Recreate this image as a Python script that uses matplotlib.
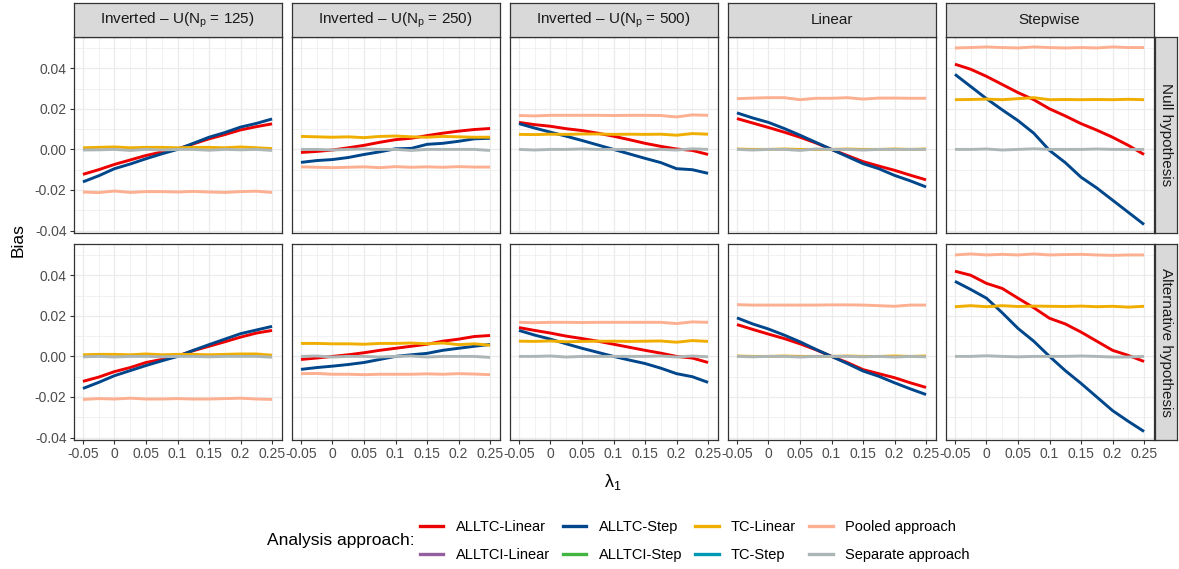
import matplotlib
matplotlib.use("Agg")
import matplotlib.pyplot as plt
from matplotlib.lines import Line2D
from matplotlib.ticker import MultipleLocator

plt.rcParams["font.family"] = ["Liberation Sans", "DejaVu Sans"]
plt.rcParams["mathtext.fontset"] = "custom"
plt.rcParams["mathtext.rm"] = "Liberation Sans"
plt.rcParams["mathtext.it"] = "Liberation Sans:italic"

# ---------------- DATA ----------------
lambda1 = [-0.05, -0.025, 0, 0.025, 0.05, 0.075, 0.1, 0.125, 0.15, 0.175, 0.2, 0.225, 0.25]

panels = ["Inverted \u2013 U(N$_\\mathrm{p}$ = 125)",
          "Inverted \u2013 U(N$_\\mathrm{p}$ = 250)",
          "Inverted \u2013 U(N$_\\mathrm{p}$ = 500)",
          "Linear", "Stepwise"]
rows = ["Null hypothesis", "Alternative hypothesis"]

# one list per panel (IU125, IU250, IU500, Linear, Stepwise)
alltc_linear_null = [
    [-0.0123, -0.0100, -0.0074, -0.0052, -0.0030, -0.0013, 0.0002, 0.0027, 0.0052, 0.0073, 0.0096, 0.0112, 0.0126],
    [-0.0015, -0.0010, -0.0003, 0.0008, 0.0020, 0.0035, 0.0048, 0.0055, 0.0068, 0.0080, 0.0090, 0.0098, 0.0103],
    [0.0133, 0.0122, 0.0114, 0.0102, 0.0093, 0.0080, 0.0065, 0.0048, 0.0030, 0.0015, 0.0002, -0.0005, -0.0025],
    [0.0152, 0.0130, 0.0108, 0.0085, 0.0060, 0.0032, 0.0000, -0.0030, -0.0060, -0.0082, -0.0103, -0.0127, -0.0150],
    [0.0420, 0.0395, 0.0360, 0.0320, 0.0280, 0.0245, 0.0200, 0.0165, 0.0127, 0.0095, 0.0060, 0.0020, -0.0025],
]
alltc_step_null = [
    [-0.0160, -0.0130, -0.0095, -0.0072, -0.0046, -0.0022, 0.0000, 0.0030, 0.0060, 0.0083, 0.0110, 0.0128, 0.0150],
    [-0.0064, -0.0055, -0.0050, -0.0040, -0.0025, -0.0012, 0.0003, 0.0005, 0.0025, 0.0030, 0.0040, 0.0052, 0.0055],
    [0.0127, 0.0105, 0.0085, 0.0065, 0.0044, 0.0022, 0.0000, -0.0022, -0.0044, -0.0065, -0.0095, -0.0100, -0.0118],
    [0.0180, 0.0155, 0.0133, 0.0103, 0.0070, 0.0035, 0.0000, -0.0035, -0.0070, -0.0095, -0.0128, -0.0155, -0.0185],
    [0.0370, 0.0310, 0.0250, 0.0195, 0.0142, 0.0080, -0.0005, -0.0065, -0.0137, -0.0190, -0.0250, -0.0310, -0.0370],
]
tc_linear_null = [
    [0.0008, 0.0010, 0.0012, 0.0008, 0.0010, 0.0010, 0.0008, 0.0010, 0.0010, 0.0008, 0.0012, 0.0008, 0.0004],
    [0.0064, 0.0062, 0.0060, 0.0062, 0.0058, 0.0064, 0.0066, 0.0062, 0.0060, 0.0064, 0.0062, 0.0060, 0.0060],
    [0.0074, 0.0073, 0.0075, 0.0074, 0.0076, 0.0076, 0.0074, 0.0075, 0.0074, 0.0075, 0.0070, 0.0078, 0.0075],
    [0.0002, 0.0000, 0.0000, 0.0002, 0.0000, 0.0000, 0.0000, 0.0002, 0.0000, 0.0000, 0.0002, 0.0000, 0.0002],
    [0.0245, 0.0246, 0.0248, 0.0245, 0.0250, 0.0255, 0.0245, 0.0246, 0.0245, 0.0246, 0.0245, 0.0247, 0.0245],
]
pooled_null = [
    [-0.0210, -0.0213, -0.0205, -0.0212, -0.0208, -0.0208, -0.0210, -0.0207, -0.0210, -0.0212, -0.0208, -0.0206, -0.0212],
    [-0.0086, -0.0088, -0.0090, -0.0088, -0.0086, -0.0090, -0.0085, -0.0088, -0.0086, -0.0088, -0.0085, -0.0087, -0.0087],
    [0.0167, 0.0165, 0.0168, 0.0168, 0.0168, 0.0168, 0.0167, 0.0168, 0.0168, 0.0167, 0.0160, 0.0170, 0.0168],
    [0.0250, 0.0253, 0.0255, 0.0255, 0.0245, 0.0252, 0.0252, 0.0255, 0.0248, 0.0253, 0.0253, 0.0252, 0.0252],
    [0.0500, 0.0502, 0.0505, 0.0502, 0.0500, 0.0505, 0.0502, 0.0500, 0.0502, 0.0500, 0.0505, 0.0502, 0.0502],
]
separate_null = [
    [-0.0003, -0.0002, 0.0000, -0.0005, 0.0000, -0.0003, 0.0000, 0.0000, -0.0004, 0.0000, -0.0002, 0.0000, -0.0005],
    [0.0000, 0.0000, -0.0003, 0.0000, 0.0002, 0.0000, 0.0000, -0.0005, 0.0000, 0.0000, 0.0000, 0.0000, -0.0005],
    [0.0000, -0.0003, 0.0000, 0.0000, 0.0002, 0.0000, 0.0000, 0.0000, -0.0002, 0.0000, -0.0003, 0.0003, 0.0000],
    [0.0000, -0.0003, 0.0000, 0.0000, -0.0005, 0.0002, 0.0000, 0.0000, -0.0003, 0.0000, 0.0000, 0.0000, 0.0000],
    [0.0000, 0.0000, 0.0002, -0.0003, 0.0000, 0.0003, 0.0000, 0.0000, 0.0000, 0.0002, 0.0000, 0.0000, 0.0000],
]

alltc_linear_alt = [
    [-0.0123, -0.0102, -0.0075, -0.0055, -0.0030, -0.0015, 0.0002, 0.0028, 0.0050, 0.0072, 0.0095, 0.0115, 0.0128],
    [-0.0015, -0.0008, 0.0000, 0.0008, 0.0018, 0.0030, 0.0040, 0.0050, 0.0060, 0.0075, 0.0085, 0.0098, 0.0103],
    [0.0142, 0.0128, 0.0115, 0.0100, 0.0088, 0.0075, 0.0060, 0.0045, 0.0030, 0.0016, 0.0000, -0.0008, -0.0030],
    [0.0157, 0.0133, 0.0110, 0.0088, 0.0062, 0.0033, 0.0000, -0.0030, -0.0065, -0.0085, -0.0105, -0.0130, -0.0153],
    [0.0420, 0.0400, 0.0360, 0.0335, 0.0287, 0.0240, 0.0188, 0.0160, 0.0120, 0.0075, 0.0030, 0.0005, -0.0025],
]
alltc_step_alt = [
    [-0.0158, -0.0128, -0.0095, -0.0070, -0.0045, -0.0022, 0.0000, 0.0030, 0.0058, 0.0085, 0.0112, 0.0130, 0.0148],
    [-0.0064, -0.0055, -0.0048, -0.0040, -0.0030, -0.0015, 0.0000, 0.0008, 0.0015, 0.0030, 0.0040, 0.0050, 0.0059],
    [0.0128, 0.0105, 0.0085, 0.0062, 0.0040, 0.0020, 0.0000, -0.0018, -0.0035, -0.0058, -0.0085, -0.0100, -0.0128],
    [0.0190, 0.0160, 0.0135, 0.0105, 0.0072, 0.0035, 0.0000, -0.0035, -0.0072, -0.0098, -0.0130, -0.0160, -0.0188],
    [0.0370, 0.0330, 0.0287, 0.0215, 0.0138, 0.0075, 0.0000, -0.0070, -0.0133, -0.0200, -0.0267, -0.0320, -0.0370],
]
tc_linear_alt = [
    [0.0008, 0.0010, 0.0010, 0.0008, 0.0012, 0.0008, 0.0010, 0.0010, 0.0008, 0.0010, 0.0012, 0.0012, 0.0006],
    [0.0064, 0.0064, 0.0062, 0.0062, 0.0060, 0.0064, 0.0064, 0.0066, 0.0062, 0.0066, 0.0058, 0.0062, 0.0055],
    [0.0075, 0.0074, 0.0076, 0.0072, 0.0074, 0.0075, 0.0075, 0.0074, 0.0075, 0.0076, 0.0070, 0.0078, 0.0074],
    [0.0002, 0.0000, 0.0000, 0.0002, 0.0000, 0.0000, 0.0000, 0.0002, 0.0000, 0.0000, 0.0002, 0.0000, 0.0002],
    [0.0245, 0.0250, 0.0245, 0.0250, 0.0246, 0.0248, 0.0247, 0.0246, 0.0248, 0.0245, 0.0247, 0.0243, 0.0247],
]
pooled_alt = [
    [-0.0212, -0.0208, -0.0210, -0.0206, -0.0210, -0.0210, -0.0208, -0.0210, -0.0210, -0.0208, -0.0206, -0.0210, -0.0212],
    [-0.0085, -0.0084, -0.0088, -0.0088, -0.0090, -0.0088, -0.0088, -0.0088, -0.0086, -0.0088, -0.0085, -0.0087, -0.0090],
    [0.0168, 0.0166, 0.0168, 0.0168, 0.0167, 0.0168, 0.0168, 0.0168, 0.0168, 0.0168, 0.0162, 0.0170, 0.0168],
    [0.0255, 0.0253, 0.0253, 0.0253, 0.0253, 0.0253, 0.0254, 0.0254, 0.0253, 0.0250, 0.0247, 0.0253, 0.0253],
    [0.0500, 0.0505, 0.0500, 0.0503, 0.0500, 0.0505, 0.0500, 0.0502, 0.0503, 0.0500, 0.0498, 0.0500, 0.0500],
]
separate_alt = [
    [-0.0002, 0.0000, -0.0003, 0.0000, 0.0000, -0.0002, 0.0000, 0.0000, -0.0002, 0.0000, 0.0000, 0.0000, -0.0004],
    [0.0000, 0.0002, -0.0003, 0.0000, 0.0000, -0.0003, 0.0000, 0.0002, -0.0003, 0.0000, 0.0000, 0.0000, -0.0005],
    [0.0000, 0.0000, 0.0002, -0.0003, 0.0000, 0.0000, 0.0000, 0.0000, 0.0000, 0.0002, -0.0003, 0.0002, -0.0002],
    [0.0000, -0.0002, 0.0000, 0.0000, -0.0003, 0.0000, 0.0000, 0.0000, -0.0002, 0.0000, -0.0003, 0.0000, -0.0002],
    [0.0000, 0.0000, 0.0003, 0.0000, -0.0002, 0.0000, 0.0000, 0.0000, 0.0002, 0.0000, -0.0003, -0.0003, 0.0000],
]

# ---------------- STYLE ----------------
approaches = ["ALLTC-Linear", "ALLTCI-Linear", "ALLTC-Step", "ALLTCI-Step",
              "TC-Linear", "TC-Step", "Pooled approach", "Separate approach"]
colors = {
    "ALLTC-Linear": "#ED0000", "ALLTCI-Linear": "#925E9F",
    "ALLTC-Step": "#00468B", "ALLTCI-Step": "#42B540",
    "TC-Linear": "#EFAE00", "TC-Step": "#0099B4",
    "Pooled approach": "#FDAF91", "Separate approach": "#ADB6B6",
}
STRIP_BG = "#D9D9D9"
BORDER = "#333333"
GRID = "#EBEBEB"

W, H = 1179, 569
fig = plt.figure(figsize=(W / 100, H / 100), dpi=100)


def rect(x0, y0, w, h):
    return [x0 / W, 1 - (y0 + h) / H, w / W, h / H]


col_left = [73.5, 291.5, 509.5, 727.5, 945.5]
row_top = [37, 244]
pw, ph = 208, 196

series_by_row = [
    [("ALLTC-Linear", alltc_linear_null), ("ALLTC-Step", alltc_step_null),
     ("TC-Linear", tc_linear_null), ("Pooled approach", pooled_null),
     ("Separate approach", separate_null)],
    [("ALLTC-Linear", alltc_linear_alt), ("ALLTC-Step", alltc_step_alt),
     ("TC-Linear", tc_linear_alt), ("Pooled approach", pooled_alt),
     ("Separate approach", separate_alt)],
]

for r in range(2):
    for c in range(5):
        ax = fig.add_axes(rect(col_left[c], row_top[r], pw, ph))
        for name, data in series_by_row[r]:
            ax.plot(lambda1, data[c], color=colors[name], lw=2.1, solid_capstyle="butt")
        ax.set_xlim(-0.065, 0.265)
        ax.set_ylim(-0.0412, 0.0554)
        ax.xaxis.set_major_locator(MultipleLocator(0.05))
        ax.xaxis.set_minor_locator(MultipleLocator(0.025))
        ax.yaxis.set_major_locator(MultipleLocator(0.02))
        ax.yaxis.set_minor_locator(MultipleLocator(0.01))
        ax.grid(which="major", color=GRID, lw=0.9)
        ax.grid(which="minor", color=GRID, lw=0.45)
        ax.set_axisbelow(True)
        for s in ax.spines.values():
            s.set_color(BORDER)
            s.set_linewidth(0.9)
        ax.tick_params(which="major", length=3, color=BORDER, width=0.8,
                       labelsize=10, labelcolor="#4D4D4D", pad=2)
        ax.tick_params(which="minor", length=0)
        if c == 0:
            ax.set_yticks([-0.04, -0.02, 0.0, 0.02, 0.04])
            ax.set_yticklabels(["-0.04", "-0.02", "0.00", "0.02", "0.04"])
        else:
            ax.tick_params(axis="y", which="major", labelleft=False, length=0)
        if r == 1:
            ax.set_xticks([-0.05, 0, 0.05, 0.1, 0.15, 0.2, 0.25])
            ax.set_xticklabels(["-0.05", "0", "0.05", "0.1", "0.15", "0.2", "0.25"])
        else:
            ax.tick_params(axis="x", which="major", labelbottom=False, length=0)

# top strips
for c in range(5):
    sax = fig.add_axes(rect(col_left[c], 3, pw, 34))
    sax.set_facecolor(STRIP_BG)
    sax.set_xticks([])
    sax.set_yticks([])
    for s in sax.spines.values():
        s.set_color(BORDER)
        s.set_linewidth(0.9)
    sax.text(0.5, 0.5, panels[c], ha="center", va="center", fontsize=11,
             color="#1A1A1A", transform=sax.transAxes)

# right strips
for r in range(2):
    sax = fig.add_axes(rect(1155, row_top[r], 22, ph))
    sax.set_facecolor(STRIP_BG)
    sax.set_xticks([])
    sax.set_yticks([])
    for s in sax.spines.values():
        s.set_color(BORDER)
        s.set_linewidth(0.9)
    sax.text(0.5, 0.5, rows[r], ha="center", va="center", fontsize=11,
             color="#1A1A1A", rotation=270, transform=sax.transAxes)

# axis titles
fig.text(18 / W, 1 - 240 / H, "Bias", rotation=90, ha="center", va="center", fontsize=12.5)
fig.text(613 / W, 1 - 482 / H, "\u03bb$_1$", ha="center", va="center", fontsize=13)

# legend
handles = [Line2D([], [], color=colors[a], lw=2.4) for a in approaches]
fig.legend(handles, approaches, loc="center left", bbox_to_anchor=(420 / W, 1 - 541 / H),
           ncol=4, frameon=False, fontsize=10.5, handlelength=1.6, handletextpad=0.85,
           columnspacing=0.9, labelspacing=0.95, borderpad=0, borderaxespad=0)
fig.text(415 / W, 1 - 541 / H, "Analysis approach:", ha="right", va="center", fontsize=12.5)

fig.savefig("out.png", dpi=100, facecolor="white")
